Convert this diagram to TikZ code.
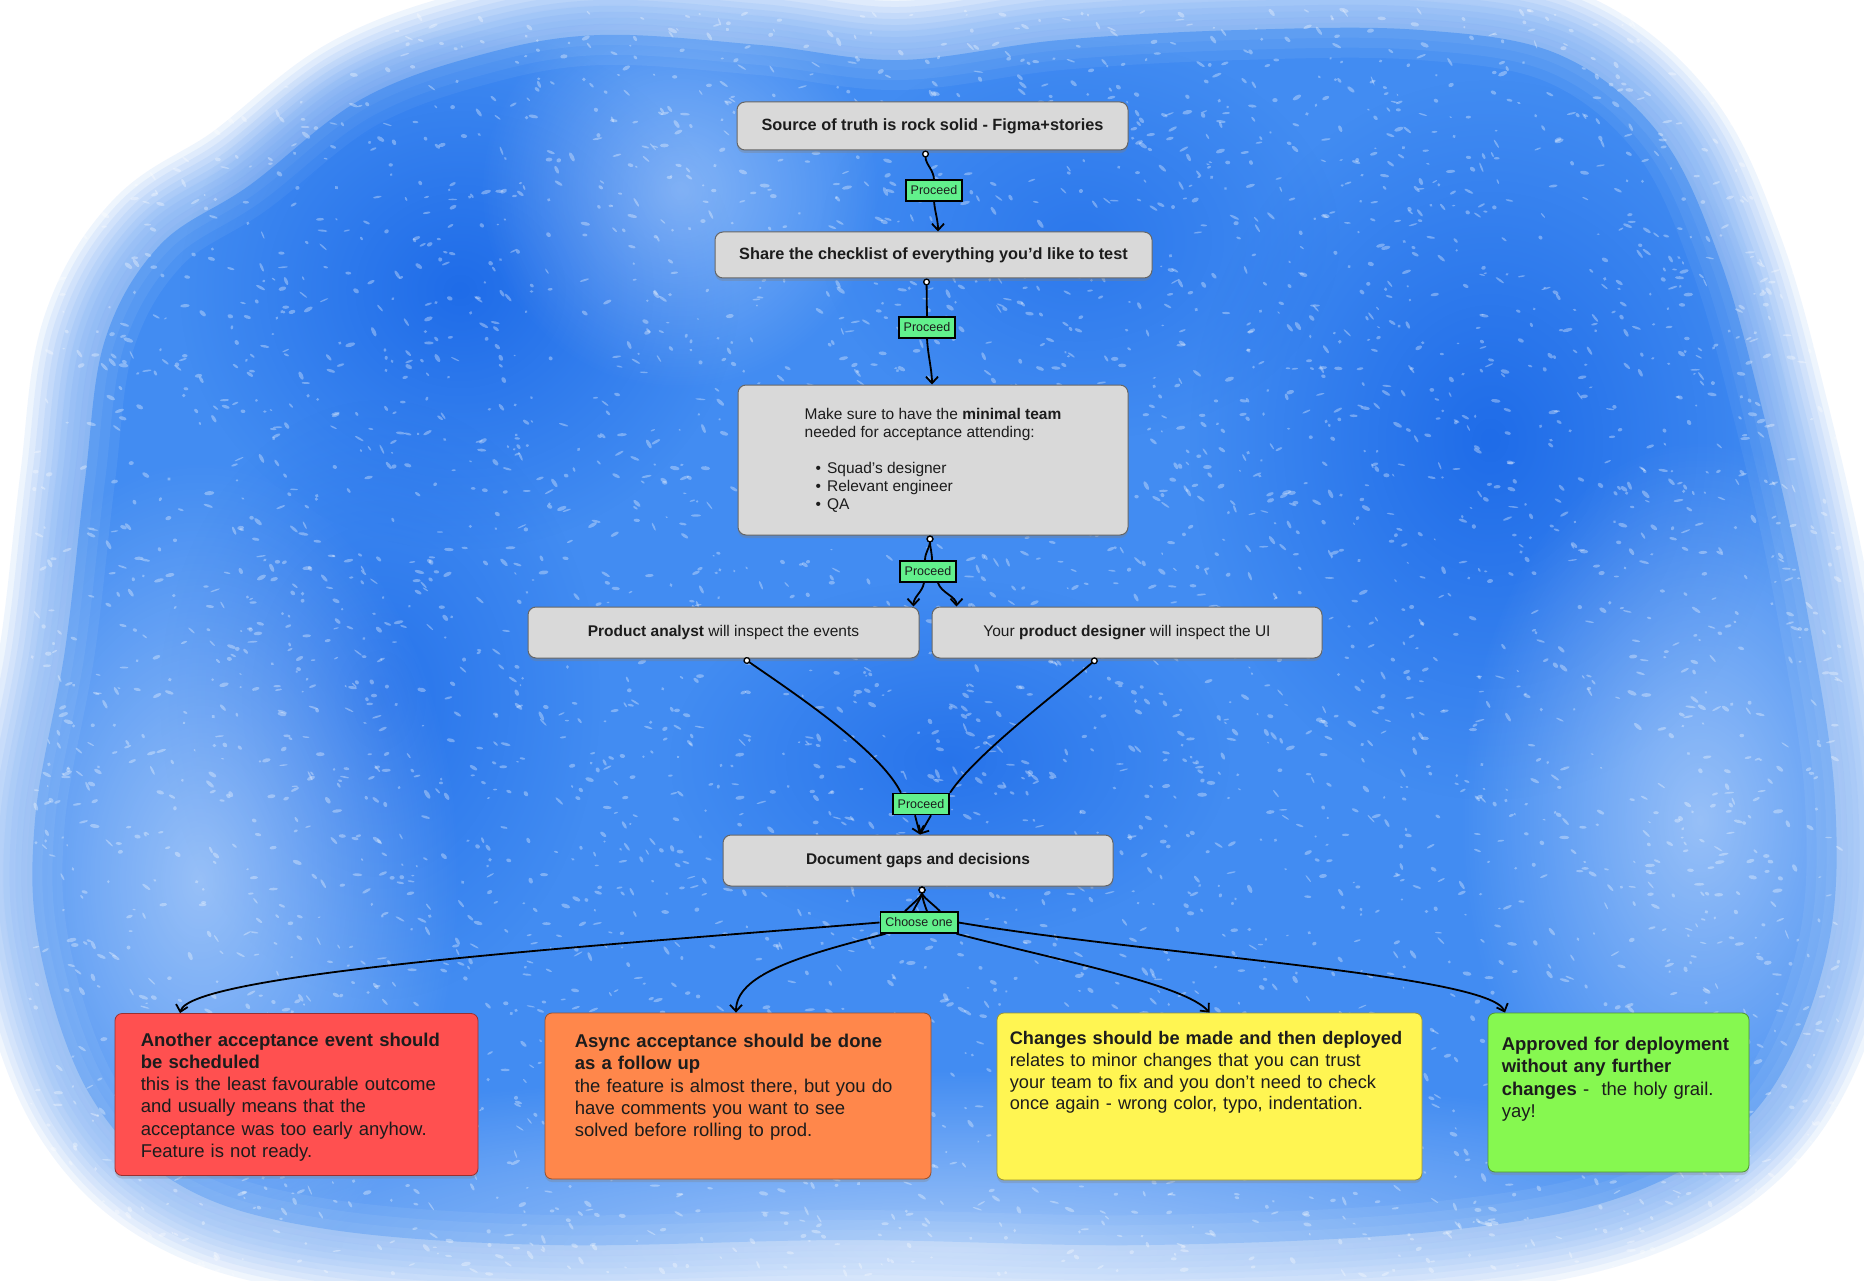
\documentclass[tikz,border=0pt]{standalone}
\usepackage{fontspec}
\setmainfont{Liberation Sans}
\usepackage{xcolor}
\usetikzlibrary{positioning}
\usetikzlibrary{arrows.meta}
\usetikzlibrary{shadows}
\usetikzlibrary{fadings}
\definecolor{paintBlue}{RGB}{66,140,242}
\definecolor{paintDeep}{RGB}{22,100,230}
\definecolor{paintLight}{RGB}{160,198,248}
\definecolor{boxGray}{RGB}{217,217,217}
\definecolor{tagGreen}{RGB}{98,240,140}
\definecolor{cardRed}{RGB}{255,80,80}
\definecolor{cardOrange}{RGB}{255,135,75}
\definecolor{cardYellow}{RGB}{255,245,82}
\definecolor{cardGreen}{RGB}{134,248,80}
\definecolor{inkColor}{RGB}{28,28,28}
\tikzfading[name=softspot, inner color=transparent!0, outer color=transparent!100]

\begin{document}
\begin{tikzpicture}[x=1pt,y=-1pt,
  stepbox/.style={draw=black!60, line width=1pt, fill=boxGray, rounded corners=8pt,
    text=inkColor, font=\fontsize{15.5}{18}\selectfont,
    drop shadow={shadow xshift=0pt, shadow yshift=-3pt, opacity=.35}},
  card/.style={draw=#1!60!black, line width=.8pt, fill=#1, rounded corners=7pt,
    drop shadow={shadow xshift=0pt, shadow yshift=-3pt, opacity=.3}},
  cardtext/.style={anchor=north west, inner sep=0pt, text width=420pt, align=left,
    text=inkColor, font=\fontsize{18.5}{22.2}\selectfont},
  tag/.style={draw=black, line width=1.6pt, fill=tagGreen, inner xsep=5pt, inner ysep=2pt,
    minimum height=21, text=inkColor, font=\fontsize{12.5}{14}\selectfont},
  tail/.style={line width=1.8pt, arrows={Circle[open, fill=white, length=7pt, width=7pt, line width=1.3pt]-}},
  head/.style={line width=1.8pt, arrows={-Straight Barb[length=6.5pt, width=12pt]}},
  spot/.style={fill=#1, path fading=softspot},
]
\newcommand\PaintEdge{plot[smooth cycle, tension=0.6] coordinates {
  (250,185) (360,100) (480,55) (600,35) (760,45) (900,60) (1060,40) (1240,30)
  (1420,30) (1560,55) (1660,135) (1720,260) (1765,420) (1805,600) (1835,800)
  (1825,960) (1760,1105) (1640,1190) (1450,1230) (1150,1245) (850,1240)
  (550,1245) (320,1228) (180,1185) (90,1095) (40,950) (35,820) (65,650)
  (85,480) (105,340) (160,245)}}
\useasboundingbox (0,0) rectangle (1864,1281);
\fill [white] (0,0) rectangle (1864,1281);

% paint
\foreach \w in {130,118,...,10}
  \draw [paintBlue, line width=\w pt, opacity=.085] \PaintEdge;
\fill [paintBlue] \PaintEdge;
\foreach \w in {60,40,20}
  \draw [paintLight, line width=\w pt, opacity=.12] \PaintEdge;
\fill [spot=paintDeep, opacity=.8] (460,290) ellipse [x radius=280, y radius=260];
\fill [spot=paintDeep, opacity=.6] (380,700) ellipse [x radius=220, y radius=300];
\fill [spot=paintDeep, opacity=.8] (1490,440) ellipse [x radius=300, y radius=360];
\fill [spot=paintDeep, opacity=.6] (950,760) ellipse [x radius=280, y radius=180];
\fill [spot=paintDeep, opacity=.5] (1080,240) ellipse [x radius=260, y radius=200];
\fill [spot=white, opacity=.45] (200,880) ellipse [x radius=260, y radius=420];
\fill [spot=white, opacity=.45] (1700,820) ellipse [x radius=240, y radius=380];
\fill [spot=white, opacity=.5] (950,1250) ellipse [x radius=1000, y radius=180];
\fill [spot=white, opacity=.35] (680,190) ellipse [x radius=200, y radius=200];
\pgfmathsetseed{1234}
\begin{scope}[fill=white, fill opacity=.33]
\foreach \k in {1,...,4800}{
  \pgfmathsetmacro\sx{30+rnd*1810}
  \pgfmathsetmacro\sy{10+rnd*1265}
  \pgfmathsetmacro\sa{1.2+rnd*4}
  \pgfmathsetmacro\sb{.7+rnd*1.4}
  \pgfmathsetmacro\sr{-70+rnd*100}
  \fill [rotate around={\sr:(\sx,\sy)}] (\sx,\sy) ellipse [x radius=\sa, y radius=\sb];
}
\end{scope}

% steps
\node [stepbox, minimum width=391, minimum height=48, font=\fontsize{16.3}{19}\selectfont] (truth) at (932.5,126)
  {\textbf{Source of truth is rock solid - Figma+stories}};
\node [stepbox, minimum width=437, minimum height=46, font=\fontsize{16.3}{19}\selectfont] (checklist) at (933.5,255)
  {\textbf{Share the checklist of everything you’d like to test}};
\node [stepbox, minimum width=390, minimum height=150, align=left] (team) at (933,460)
  {Make sure to have the \textbf{minimal team}\\needed for acceptance attending:\\[18pt]
   \hspace*{11pt}•\hspace{6pt}Squad’s designer\\
   \hspace*{11pt}•\hspace{6pt}Relevant engineer\\
   \hspace*{11pt}•\hspace{6pt}QA};
\node [stepbox, minimum width=391, minimum height=51] (analyst) at (723.5,632.5)
  {\textbf{Product analyst} will inspect the events};
\node [stepbox, minimum width=390, minimum height=51] (designer) at (1127,632.5)
  {Your \textbf{product designer} will inspect the UI};
\node [stepbox, minimum width=390, minimum height=51] (gaps) at (918,860.5)
  {\textbf{Document gaps and decisions}};

% outcomes
\node [card=cardRed, minimum width=363, minimum height=162] (another) at (296.5,1094.5) {};
\node [cardtext] (anotherText) at ([xshift=26pt,yshift=-19.5pt]another.north west)
  {\textbf{Another acceptance event should}\\\textbf{be scheduled}\\this is the least favourable outcome\\
   and usually means that the\\acceptance was too early anyhow.\\Feature is not ready.};
\node [card=cardOrange, minimum width=386, minimum height=166] (async) at (738,1096) {};
\node [cardtext] (asyncText) at ([xshift=30pt,yshift=-21.5pt]async.north west)
  {\textbf{Async acceptance should be done}\\\textbf{as a follow up}\\the feature is almost there, but you do\\
   have comments you want to see\\solved before rolling to prod.};
\node [card=cardYellow, minimum width=425, minimum height=167] (changes) at (1209.5,1096.5) {};
\node [cardtext, font=\fontsize{18.2}{21.8}\selectfont] (changesText) at ([xshift=13pt,yshift=-18.5pt]changes.north west)
  {\textbf{Changes should be made and then deployed}\\relates to minor changes that you can trust\\
   your team to fix and you don’t need to check\\once again - wrong color, typo, indentation.};
\node [card=cardGreen, minimum width=261, minimum height=159] (approved) at (1618.5,1092.5) {};
\node [cardtext] (approvedText) at ([xshift=14pt,yshift=-24.5pt]approved.north west)
  {\textbf{Approved for deployment}\\\textbf{without any further}\\\textbf{changes} -\ \ the holy grail.\\yay!};

% connectors
\draw [tail] ([xshift=-7pt]truth.south) .. controls +(0,14) and +(0,-10) .. (934,180);
\draw [head] (934,201) .. controls +(1,12) and +(0,-12) .. ([xshift=4.5pt]checklist.north);
\node [tag] (proc1) at (934,190.5) {Proceed};

\draw [tail] ([xshift=-7pt]checklist.south) -- (927,319);
\draw [head] (927,336) .. controls +(0,15) and +(0,-15) .. ([xshift=-1pt]team.north);
\node [tag] (proc2) at (927,327.5) {Proceed};

\node [tag] (proc3) at (928,571.5) {Proceed};
\draw [tail] ([xshift=-3pt]team.south) .. controls +(0,12) and +(0,-8) .. ([xshift=-3pt]proc3.north);
\draw [tail] ([xshift=-3pt]team.south) .. controls +(0,12) and +(0,-8) .. ([xshift=4pt]proc3.north);
\draw [head] ([xshift=-4pt]proc3.south) .. controls +(-2,10) and +(0,-10) .. ([xshift=-6pt]analyst.north east);
\draw [head] ([xshift=10pt]proc3.south) .. controls +(3,10) and +(0,-10) .. ([xshift=25pt]designer.north west);
\node [tag] at (proc3) {Proceed};

\node [tag] (proc4) at (921,804) {Proceed};
\draw [tail] ([xshift=20.5pt]analyst.south) .. controls +(46,32) and +(-21,-43) .. ([xshift=9pt]proc4.north west);
\draw [tail] ([xshift=-30pt]designer.south) .. controls +(-37,32) and +(25,-38) .. (proc4.north east);
\draw [head] ([xshift=-6pt]proc4.south) -- ([xshift=2pt]gaps.north);
\draw [head] ([xshift=10pt]proc4.south) -- ([xshift=2pt]gaps.north);
\node [tag] at (proc4) {Proceed};

\node [tag] (choose) at (919,922.5) {Choose one};
\draw [tail] ([xshift=4pt]gaps.south) .. controls +(0,10) and +(8,-8) .. ([xshift=-14pt]choose.north);
\draw [tail] ([xshift=4pt]gaps.south) .. controls +(0,10) and +(4,-8) .. ([xshift=-6pt]choose.north);
\draw [tail] ([xshift=4pt]gaps.south) .. controls +(0,10) and +(-3,-8) .. ([xshift=8pt]choose.north);
\draw [tail] ([xshift=4pt]gaps.south) .. controls +(0,10) and +(-8,-8) .. ([xshift=21pt]choose.north);
\draw [head] (choose.west) .. controls +(-280,23) and +(10,-40) .. ([xshift=-116.5pt]another.north);
\draw [head] ([xshift=6pt]choose.south west) .. controls +(-86,22) and +(0,-38) .. ([xshift=-2pt]async.north);
\draw [head] ([xshift=-2pt]choose.south east) .. controls +(104,27) and +(-24.5,-28) .. (changes.north);
\draw [head] (choose.east) .. controls +(192,32.5) and +(-15,-38) .. ([xshift=-113.5pt]approved.north);
\node [tag] at (choose) {Choose one};
\end{tikzpicture}
\end{document}
